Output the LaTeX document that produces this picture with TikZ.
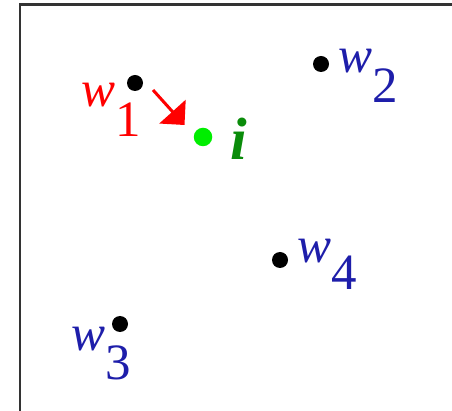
\documentclass[tikz,border=0pt]{standalone}
\usepackage{fontspec}
\setmainfont{Liberation Serif}
\usepackage{tikz}
\usetikzlibrary{arrows.meta}
\definecolor{wBlue}{HTML}{1E1EAA}
\definecolor{wRed}{HTML}{FF0000}
\definecolor{iGreen}{HTML}{0A8C0A}
\definecolor{iLime}{HTML}{00EE00}

\begin{document}
\begin{tikzpicture}[
  pt/.style={circle, fill=black, inner sep=0pt, minimum size=0.32cm},
  ipt/.style={circle, fill=iLime, inner sep=0pt, minimum size=0.37cm},
  lab/.style={inner sep=0pt, anchor=base west, font=\fontsize{29}{34}\selectfont},
  frame/.style={black!80, line width=0.05cm},
  push/.style={wRed, line width=0.06cm, -{Triangle[width=0.7cm, length=0.36cm]}},
]
  \useasboundingbox (0,0) rectangle (9.04,8.2);
  % frame (only top and left edges are visible)
  \draw[frame] (0.40,-0.2) -- (0.40,8.11) -- (9.3,8.11);
  % weight points
  \node[pt] (w1) at (2.70,6.54) {};
  \node[pt] (w2) at (6.42,6.92) {};
  \node[pt] (w3) at (2.40,1.72) {};
  \node[pt] (w4) at (5.60,3.00) {};
  \node[ipt] (i) at (4.06,5.46) {};
  % labels
  \node[lab, wRed]  (l1) at (1.62,6.06) {\textit{w}\raisebox{-17pt}{1}};
  \node[lab, wBlue] (l2) at (6.76,6.74) {\textit{w}\raisebox{-17pt}{2}};
  \node[lab, wBlue] (l3) at (1.42,1.20) {\textit{w}\raisebox{-17pt}{3}};
  \node[lab, wBlue] (l4) at (5.94,2.94) {\textit{w}\raisebox{-15pt}{4}};
  \node[lab, iGreen, font=\fontsize{34}{40}\selectfont] (li) at (4.60,5.00) {\textbf{\textit{i}}};
  % winner moves towards the input
  \coordinate (push0) at (3.06,6.40);
  \coordinate (push1) at (3.69,5.70);
  \draw[push] (push0) -- (push1);
\end{tikzpicture}
\end{document}
